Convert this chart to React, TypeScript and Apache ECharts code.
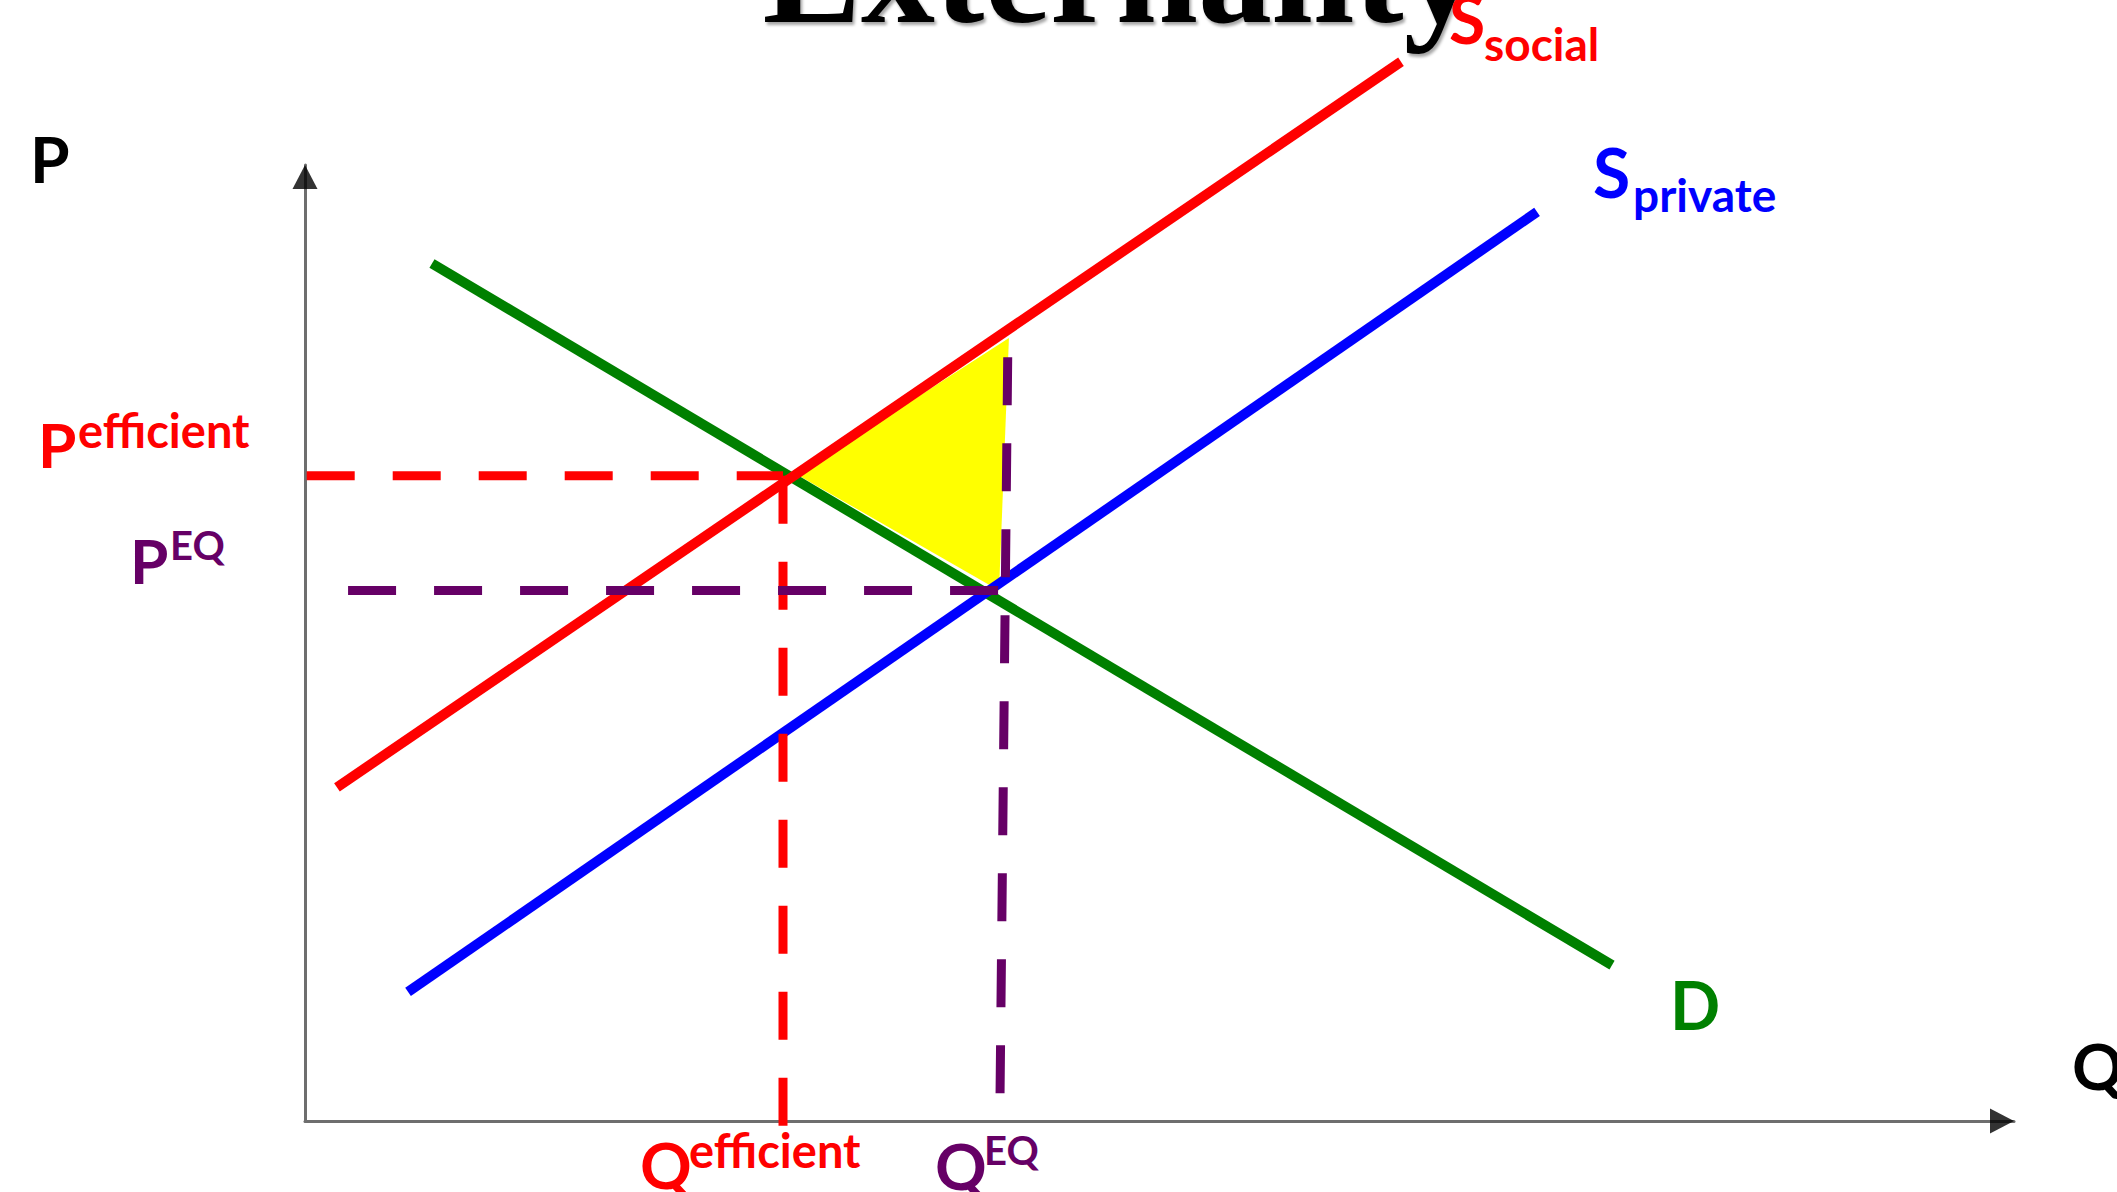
import React, { useEffect, useRef } from "react";
import * as echarts from "echarts";

// Curve end points in (quantity, price) units on a 0–100 scale
const socialSupply: [number, number][] = [[1.87, 34.9], [64.13, 110.8]];
const privateSupply: [number, number][] = [[6.03, 13.5], [72.09, 95.1]];
const demand: [number, number][] = [[7.43, 89.7], [76.48, 16.3]];

// Efficient outcome (social supply meets demand) and market equilibrium
const qEfficient = 27.97;
const pEfficient = 67.5;
const qEq = 40.67;
const pEq = 55.5;

// Deadweight-loss triangle corners
const lossTriangle: [number, number][] = [[28.8, 67.6], [41.19, 81.9], [40.61, 55.5]];

// Dashed guide extents
const redGuideStartQ = 0.1;
const redGuideBottomP = -0.6;
const purpleGuideStartQ = 2.52;
const purpleGuideTop: [number, number] = [41.13, 81.9];
const purpleGuideBottomP = 2.9;

const RED = "#FF0000";
const BLUE = "#0000FF";
const GREEN = "#008000";
const PURPLE = "#660066";
const LABEL_FONT = "Lato";

function solid(name: string, data: [number, number][], color: string) {
  return {
    name,
    type: "line",
    data,
    showSymbol: false,
    symbol: "none",
    clip: false,
    silent: true,
    z: 3,
    lineStyle: { color, width: 10, cap: "butt" },
  };
}

function dashed(name: string, data: [number, number][], color: string) {
  return {
    name,
    type: "line",
    data,
    showSymbol: false,
    symbol: "none",
    clip: false,
    silent: true,
    z: 4,
    lineStyle: { color, width: 9, type: [48, 38], cap: "butt" },
  };
}

function label(text: string, x: number, y: number, size: number, color: string) {
  return {
    type: "text",
    x,
    y,
    silent: true,
    z: 10,
    style: {
      text,
      fill: color,
      fontFamily: LABEL_FONT,
      fontWeight: "bold",
      fontSize: size,
      textAlign: "left",
      textVerticalAlign: "middle",
    },
  };
}

export default function App() {
  const ref = useRef<HTMLDivElement>(null);

  useEffect(() => {
    if (!ref.current) return;
    const chart = echarts.init(ref.current, null, { renderer: "svg" });

    chart.setOption({
      animation: false,
      backgroundColor: "#FFFFFF",
      grid: { left: 305, right: 103, top: 165, bottom: 71 },
      xAxis: {
        type: "value",
        min: 0,
        max: 100,
        axisLine: { show: true, lineStyle: { color: "#6e6e6e", width: 3 } },
        axisTick: { show: false },
        axisLabel: { show: false },
        splitLine: { show: false },
      },
      yAxis: {
        type: "value",
        min: 0,
        max: 100,
        axisLine: { show: true, lineStyle: { color: "#6e6e6e", width: 3 } },
        axisTick: { show: false },
        axisLabel: { show: false },
        splitLine: { show: false },
      },
      series: [
        {
          name: "Deadweight loss",
          type: "custom",
          clip: false,
          silent: true,
          z: 2,
          data: [lossTriangle[2]],
          renderItem: (_params: any, api: any) => ({
            type: "polygon",
            shape: { points: lossTriangle.map((pt) => api.coord(pt)) },
            style: { fill: "#FFFF00", stroke: "none" },
          }),
        },
        solid("D", demand, GREEN),
        solid("S social", socialSupply, RED),
        solid("S private", privateSupply, BLUE),
        dashed("P efficient", [[redGuideStartQ, pEfficient], [qEfficient, pEfficient]], RED),
        dashed("Q efficient", [[qEfficient, pEfficient], [qEfficient, redGuideBottomP]], RED),
        dashed("P EQ", [[purpleGuideStartQ, pEq], [qEq, pEq]], PURPLE),
        dashed("Q EQ", [[qEq, purpleGuideBottomP], purpleGuideTop], PURPLE),
        {
          name: "P axis arrow",
          type: "scatter",
          data: [[0, 100]],
          symbol: "triangle",
          symbolSize: [25, 24],
          symbolOffset: [0, 12],
          itemStyle: { color: "#000000" },
          clip: false,
          silent: true,
          z: 5,
        },
        {
          name: "Q axis arrow",
          type: "scatter",
          data: [[100, 0]],
          symbol: "path://M0,0L2,1L0,2Z",
          symbolSize: [24, 25],
          symbolOffset: [-12, 0],
          itemStyle: { color: "#000000" },
          clip: false,
          silent: true,
          z: 5,
        },
      ],
      graphic: [
        {
          type: "text",
          x: 1120,
          y: -28,
          silent: true,
          z: 1,
          style: {
            text: "Externality",
            fill: "#000000",
            fontFamily: "Liberation Serif",
            fontWeight: "bold",
            fontSize: 148,
            textAlign: "center",
            textVerticalAlign: "middle",
            textShadowColor: "rgba(0,0,0,0.35)",
            textShadowBlur: 3,
            textShadowOffsetX: 2,
            textShadowOffsetY: 3,
          },
        },
        label("S", 1449, 18, 66, RED),
        label("social", 1484, 43, 46, RED),
        label("S", 1593, 171, 68, BLUE),
        label("private", 1633, 194, 46, BLUE),
        label("P", 30, 158, 64, "#000000"),
        label("P", 38, 444, 62, RED),
        label("efficient", 78, 430, 47, RED),
        label("P", 130, 560, 62, PURPLE),
        label("EQ", 170, 545, 40, PURPLE),
        label("Q", 640, 1164, 64, RED),
        label("efficient", 689, 1150, 47, RED),
        label("Q", 935, 1165, 64, PURPLE),
        label("EQ", 984, 1150, 40, PURPLE),
        label("Q", 2072, 1065, 64, "#000000"),
        label("D", 1670, 1004, 66, GREEN),
      ],
    });

    return () => chart.dispose();
  }, []);

  return (
    <div
      ref={ref}
      style={{ position: "fixed", left: 0, top: 0, width: "2117px", height: "1192px" }}
    />
  );
}
